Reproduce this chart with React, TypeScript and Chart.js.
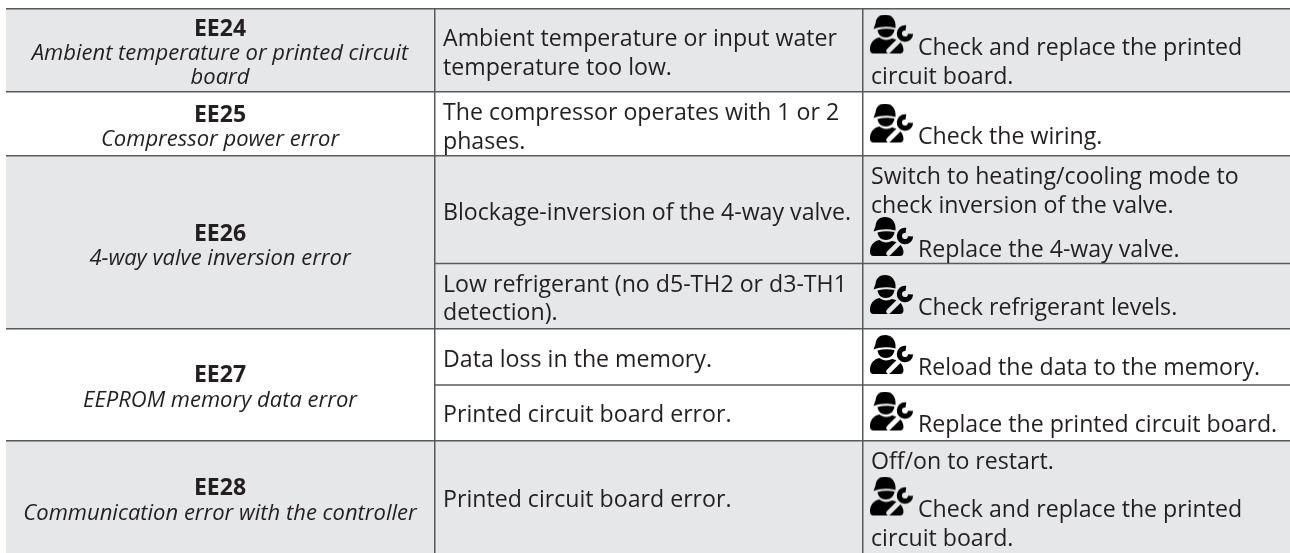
import React, { useEffect, useRef } from "react";
import { Chart, registerables } from "chart.js";

Chart.register(...registerables);

// ---- table content ----
const errorCodes = ["EE24", "EE25", "EE26", "EE27", "EE28"];
const errorNames = [
  "Ambient temperature or printed circuit",
  "board",
  "Compressor power error",
  "4-way valve inversion error",
  "EEPROM memory data error",
  "Communication error with the controller",
];
const causes = [
  "Ambient temperature or input water",
  "temperature too low.",
  "The compressor operates with 1 or 2",
  "phases.",
  "Blockage-inversion of the 4-way valve.",
  "Low refrigerant (no d5-TH2 or d3-TH1",
  "detection).",
  "Data loss in the memory.",
  "Printed circuit board error.",
  "Printed circuit board error.",
];
const remedies = [
  "circuit board.",
  "Switch to heating/cooling mode to",
  "check inversion of the valve.",
  "Off/on to restart.",
  "circuit board.",
];
const iconRemedies = [
  "Check and replace the printed",
  "Check the wiring.",
  "Replace the 4-way valve.",
  "Check refrigerant levels.",
  "Reload the data to the memory.",
  "Replace the printed circuit board.",
  "Check and replace the printed",
];

// ---- axis values (the scales run in page units) ----
const columnEdges = [435, 863];
const rowEdges = [9, 91.5, 156, 328.5, 441];
const subRowEdges = [263.5, 385];
const shadedBands = [
  [8, 91.5],
  [156, 328.5],
  [441, 553],
];

// ---- baselines of the text lines ----
const codeRows = [36, 121.5, 240.5, 382, 495];
const nameRows = [59.5, 84, 145.5, 265, 407, 520];
const causeRows = [45.5, 75, 120, 148.5, 219.5, 291.5, 320, 366.5, 421.5, 506.5];
const remedyRows = [83.5, 183.5, 212.5, 468.5, 545.5];
const iconRows = [54.5, 143.5, 257, 315, 375, 431.5, 516.5];

const INK = "#231f20";
const RULE = "#58595b";
const SHADE = "#e6e7e8";
const FONT = '"Open Sans"';
const BODY_SIZE = 23.15;
const NAME_SIZE = 22;
const CODE_SIZE = 23;

function makeIcon(): HTMLCanvasElement {
  const c = document.createElement("canvas");
  c.width = 44;
  c.height = 40;
  const g = c.getContext("2d")!;
  g.fillStyle = "#000";
  // cap
  g.beginPath();
  g.moveTo(5.5, 9);
  g.bezierCurveTo(6, 3, 10, 0, 15, 0);
  g.bezierCurveTo(21, 0, 25, 4, 25.5, 10);
  g.lineTo(25.5, 13.5);
  g.bezierCurveTo(18, 11.5, 10, 12, 3.5, 14.5);
  g.closePath();
  g.fill();
  // face
  g.beginPath();
  g.moveTo(7.5, 15.5);
  g.bezierCurveTo(13, 14, 19, 14, 24.5, 15);
  g.bezierCurveTo(24, 20, 20, 23, 16, 23);
  g.bezierCurveTo(11, 23, 8, 20, 7.5, 15.5);
  g.closePath();
  g.fill();
  // body
  g.beginPath();
  g.moveTo(0, 35);
  g.bezierCurveTo(0, 28, 4, 24, 9.5, 23);
  g.bezierCurveTo(13, 26, 18, 26, 22, 24);
  g.bezierCurveTo(28, 25, 33, 28, 33.5, 35);
  g.quadraticCurveTo(33.5, 39, 30, 39);
  g.lineTo(3.5, 39);
  g.quadraticCurveTo(0, 39, 0, 35);
  g.closePath();
  g.fill();
  // wrench handle, cut out of the body
  g.globalCompositeOperation = "destination-out";
  g.strokeStyle = "#000";
  g.lineCap = "round";
  g.lineWidth = 4.6;
  g.beginPath();
  g.moveTo(18.5, 36.5);
  g.lineTo(30, 25);
  g.stroke();
  // clear space round the wrench head
  g.beginPath();
  g.arc(35, 19, 9.5, 0, Math.PI * 2);
  g.fill();
  g.globalCompositeOperation = "source-over";
  // wrench head
  g.strokeStyle = "#000";
  g.lineCap = "butt";
  g.lineWidth = 5.2;
  g.beginPath();
  g.arc(35, 19, 5.6, Math.PI * 0.02, Math.PI * 1.55);
  g.stroke();
  return c;
}

const tablePlugin = {
  id: "tableText",
  beforeDraw(chart: any) {
    const { ctx, chartArea, scales } = chart;
    ctx.save();
    ctx.fillStyle = SHADE;
    for (const [a, b] of shadedBands) {
      const top = scales.y.getPixelForValue(a);
      ctx.fillRect(chartArea.left, top, chartArea.width, scales.y.getPixelForValue(b) - top);
    }
    ctx.restore();
  },
  afterDraw(chart: any) {
    const { ctx, scales } = chart;
    const put = (
      lines: string[],
      rows: number[],
      x: number,
      font: string,
      align: CanvasTextAlign
    ) => {
      ctx.font = font;
      ctx.textAlign = align;
      lines.forEach((t, i) => ctx.fillText(t, scales.x.getPixelForValue(x), scales.y.getPixelForValue(rows[i])));
    };
    ctx.save();
    ctx.fillStyle = INK;
    ctx.textBaseline = "alphabetic";
    ctx.textRendering = "optimizeLegibility";
    ctx.fontKerning = "normal";
    put(errorCodes, codeRows, 220, `bold ${CODE_SIZE}px ${FONT}`, "center");
    put(errorNames, nameRows, 220, `italic ${NAME_SIZE}px ${FONT}`, "center");
    put(causes, causeRows, 443, `${BODY_SIZE}px ${FONT}`, "left");
    put(remedies, remedyRows, 871, `${BODY_SIZE}px ${FONT}`, "left");
    put(iconRemedies, iconRows, 918, `${BODY_SIZE}px ${FONT}`, "left");
    ctx.restore();
  },
};

export default function App() {
  const ref = useRef<HTMLCanvasElement>(null);
  useEffect(() => {
    const icon = makeIcon();
    const gridStyle = { color: RULE, lineWidth: 1.5, drawTicks: false };
    const chart = new Chart(ref.current!, {
      type: "scatter",
      data: {
        datasets: [
          {
            label: "icons",
            data: iconRows.map((y) => ({ x: 892, y: y - 20 })),
            pointStyle: icon as any,
            pointRadius: 20,
            clip: false,
          },
          ...subRowEdges.map((y) => ({
            label: "sub-row",
            type: "line" as const,
            data: [
              { x: columnEdges[0], y },
              { x: 1290, y },
            ],
            borderColor: RULE,
            borderWidth: 1.5,
            pointRadius: 0,
          })),
        ],
      },
      options: {
        animation: false,
        responsive: false,
        events: [],
        layout: { autoPadding: false, padding: { left: 6, top: 8, right: 0, bottom: 0 } },
        plugins: { legend: { display: false }, tooltip: { enabled: false }, title: { display: false } },
        scales: {
          x: {
            type: "linear",
            min: 6,
            max: 1290,
            grid: gridStyle,
            border: { display: false },
            ticks: { display: false },
            afterBuildTicks: (s: any) => {
              s.ticks = columnEdges.map((value) => ({ value }));
            },
          },
          y: {
            type: "linear",
            reverse: true,
            min: 8,
            max: 553,
            grid: gridStyle,
            border: { display: false },
            ticks: { display: false },
            afterBuildTicks: (s: any) => {
              s.ticks = rowEdges.map((value) => ({ value }));
            },
          },
        },
      },
      plugins: [tablePlugin],
    } as any);
    return () => chart.destroy();
  }, []);
  return (
    <div style={{ position: "fixed", left: 0, top: 0, width: 1290, height: 553, background: "#fff" }}>
      <canvas ref={ref} width={1290} height={553} style={{ display: "block" }} />
    </div>
  );
}
